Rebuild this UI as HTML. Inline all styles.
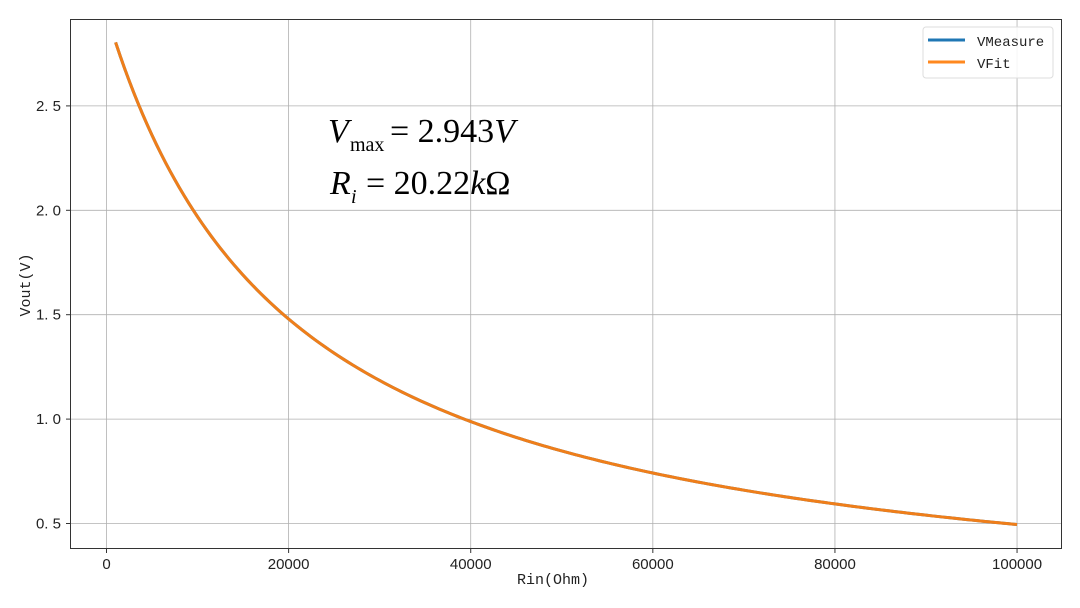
<!DOCTYPE html>
<html><head><meta charset="utf-8"><style>
body{margin:0;background:#fff;}
svg{display:block;font-family:"Liberation Sans","Noto Sans CJK SC",sans-serif;}
</style></head><body>
<svg id="s" width="1080" height="608" viewBox="0 0 1080 608" xmlns="http://www.w3.org/2000/svg">
<rect x="0" y="0" width="1080" height="608" fill="#fff"/>
<g id="grid" stroke="#b0b0b0" stroke-width="0.8"></g>
<g id="ticks" font-size="15" fill="#222"></g>
<path id="c1" fill="none" stroke="#1f77b4" stroke-width="3"/>
<path id="c2" fill="none" stroke="#ff7f0e" stroke-opacity="0.93" stroke-width="3"/>
<rect x="70.5" y="19.5" width="991" height="529" fill="none" stroke="#333" stroke-width="1"/>
<rect x="923" y="27" width="130" height="51" rx="3" fill="#fff" fill-opacity="0.85" stroke="#ddd"/>
<line x1="928" y1="40" x2="965" y2="40" stroke="#1f77b4" stroke-width="3"/>
<line x1="928" y1="62" x2="965" y2="62" stroke="#ff7f0e" stroke-opacity="0.93" stroke-width="3"/>
<text x="977" y="46" font-size="14" font-family="Liberation Mono,monospace" fill="#222">VMeasure</text>
<text x="977" y="68" font-size="14" font-family="Liberation Mono,monospace" fill="#222">VFit</text>
<text x="553" y="584" font-size="15" text-anchor="middle" font-family="Liberation Mono,monospace" fill="#222">Rin(Ohm)</text>
<text transform="translate(30,285) rotate(-90)" font-size="15" text-anchor="middle" font-family="Liberation Mono,monospace" fill="#222">Vout(V)</text>
<g font-family="Liberation Serif,serif" fill="#000">
<text x="328" y="142" font-size="34" font-style="italic">V</text>
<text x="350" y="151" font-size="20">max</text>
<text x="390" y="142" font-size="34">= 2.943<tspan font-style="italic">V</tspan></text>
<text x="330" y="194" font-size="34" font-style="italic">R</text>
<text x="351" y="203" font-size="20" font-style="italic">i</text>
<text x="366" y="194" font-size="34">= 20.22<tspan font-style="italic">k</tspan>Ω</text>
</g>
</svg>
<script>
const X=v=>106.5+v*0.0091055, Y=v=>523.5-(v-0.5)*208.8;
const g=document.getElementById('grid'),t=document.getElementById('ticks'),ns='http://www.w3.org/2000/svg';
function el(p,n,a,txt){const e=document.createElementNS(ns,n);for(const k in a)e.setAttribute(k,a[k]);if(txt)e.textContent=txt;p.appendChild(e);}
for(let v=0;v<=100000;v+=20000){const x=X(v);el(g,'line',{x1:x,x2:x,y1:19.5,y2:548.5});el(t,'line',{x1:x,x2:x,y1:548.5,y2:553,stroke:'#333'});el(t,'text',{x:x,y:569,'text-anchor':'middle'},String(v));}
[0.5,1.0,1.5,2.0,2.5].forEach(v=>{const y=Y(v);el(g,'line',{x1:70.5,x2:1061.5,y1:y,y2:y});el(t,'line',{x1:66,x2:70.5,y1:y,y2:y,stroke:'#333'});el(t,'text',{x:61,y:y+5,'text-anchor':'end'},v.toFixed(1).replace('.','. '));});
let d='';for(let r=1000;r<=100000;r+=500){const v=2.943*20220/(r+20220);d+=(d?'L':'M')+X(r).toFixed(2)+' '+Y(v).toFixed(2);}
document.getElementById('c1').setAttribute('d',d);document.getElementById('c2').setAttribute('d',d);
</script>
</body></html>
